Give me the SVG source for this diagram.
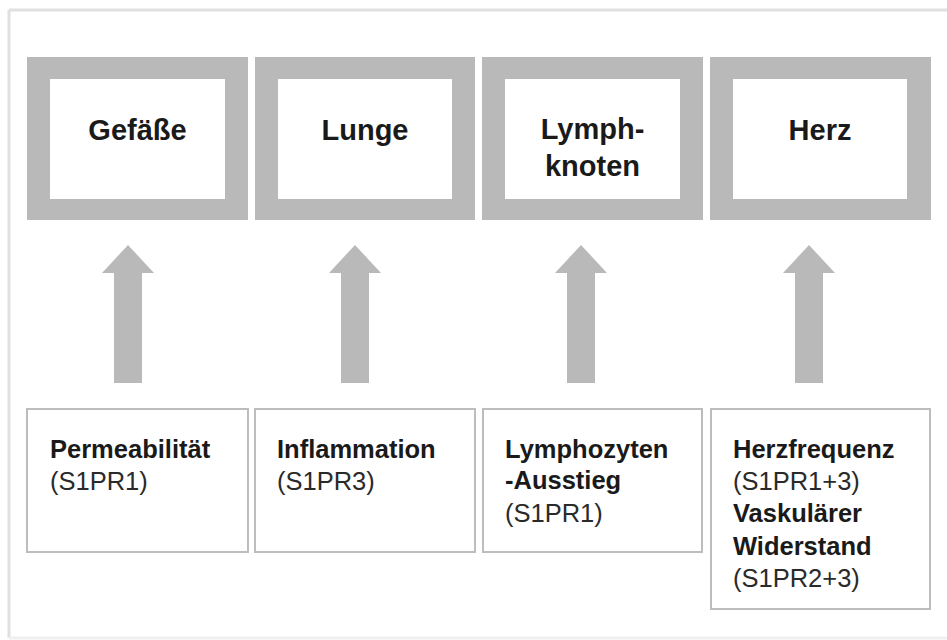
<svg xmlns="http://www.w3.org/2000/svg" width="947" height="640" viewBox="0 0 947 640">
<style>
.organ{fill:#b9b9b9}
.inner{fill:#ffffff}
.ot{font-family:"Liberation Sans",Arial,sans-serif;font-weight:bold;font-size:29px;fill:#1a1a1a;text-anchor:middle}
.eff{fill:#ffffff;stroke:#bdbdbd;stroke-width:2}
.b{font-family:"Liberation Sans",Arial,sans-serif;font-weight:bold;font-size:25.5px;fill:#1a1a1a}
.r{font-family:"Liberation Sans",Arial,sans-serif;font-size:25.5px;fill:#2a2a2a}
.arrow{fill:#b9b9b9}
</style>
<defs>
<path id="arr" d="M-14,0 V-110 H-26 L0,-138 L26,-110 H14 V0 Z"/>
</defs>
<rect width="947" height="640" fill="#ffffff"/>
<g id="frame" fill="none" stroke="#e0e0e0" stroke-width="3">
<line x1="9" y1="10" x2="947" y2="10"/>
<line x1="9" y1="10" x2="9" y2="638"/>
<line x1="9" y1="638" x2="947" y2="638" stroke="#f0f0f0"/>
</g>
<g id="organ-gefaesse">
<rect class="organ" x="27" y="57" width="221" height="163"/>
<rect class="inner" x="50" y="79" width="175" height="120"/>
<text class="ot" x="137.5" y="140">Gefäße</text>
</g>
<g id="organ-lunge">
<rect class="organ" x="255" y="57" width="220" height="163"/>
<rect class="inner" x="278" y="79" width="174" height="120"/>
<text class="ot" x="365" y="140">Lunge</text>
</g>
<g id="organ-lymphknoten">
<rect class="organ" x="482" y="57" width="221" height="163"/>
<rect class="inner" x="505" y="79" width="175" height="120"/>
<text class="ot" x="592.5" y="139">Lymph-</text>
<text class="ot" x="592.5" y="176">knoten</text>
</g>
<g id="organ-herz">
<rect class="organ" x="710" y="57" width="221" height="163"/>
<rect class="inner" x="733" y="79" width="174" height="120"/>
<text class="ot" x="820" y="140">Herz</text>
</g>
<g id="connectors">
<use href="#arr" class="arrow" x="128" y="383"/>
<use href="#arr" class="arrow" x="355" y="383"/>
<use href="#arr" class="arrow" x="581" y="383"/>
<use href="#arr" class="arrow" x="809" y="383"/>
</g>
<g id="effect-permeabilitaet">
<rect class="eff" x="27" y="409" width="221" height="143"/>
<text class="b" x="50" y="458">Permeabilität</text>
<text class="r" x="50" y="490">(S1PR1)</text>
</g>
<g id="effect-inflammation">
<rect class="eff" x="255" y="409" width="220" height="143"/>
<text class="b" x="277" y="458">Inflammation</text>
<text class="r" x="277" y="490">(S1PR3)</text>
</g>
<g id="effect-lymphozyten">
<rect class="eff" x="483" y="409" width="219" height="143"/>
<text class="b" x="505" y="458">Lymphozyten</text>
<text class="b" x="505" y="489">-Ausstieg</text>
<text class="r" x="505" y="522">(S1PR1)</text>
</g>
<g id="effect-herz">
<rect class="eff" x="711" y="409" width="219" height="200"/>
<text class="b" x="733" y="458">Herzfrequenz</text>
<text class="r" x="733" y="490">(S1PR1+3)</text>
<text class="b" x="733" y="522">Vaskulärer</text>
<text class="b" x="733" y="555">Widerstand</text>
<text class="r" x="733" y="587">(S1PR2+3)</text>
</g>
</svg>
